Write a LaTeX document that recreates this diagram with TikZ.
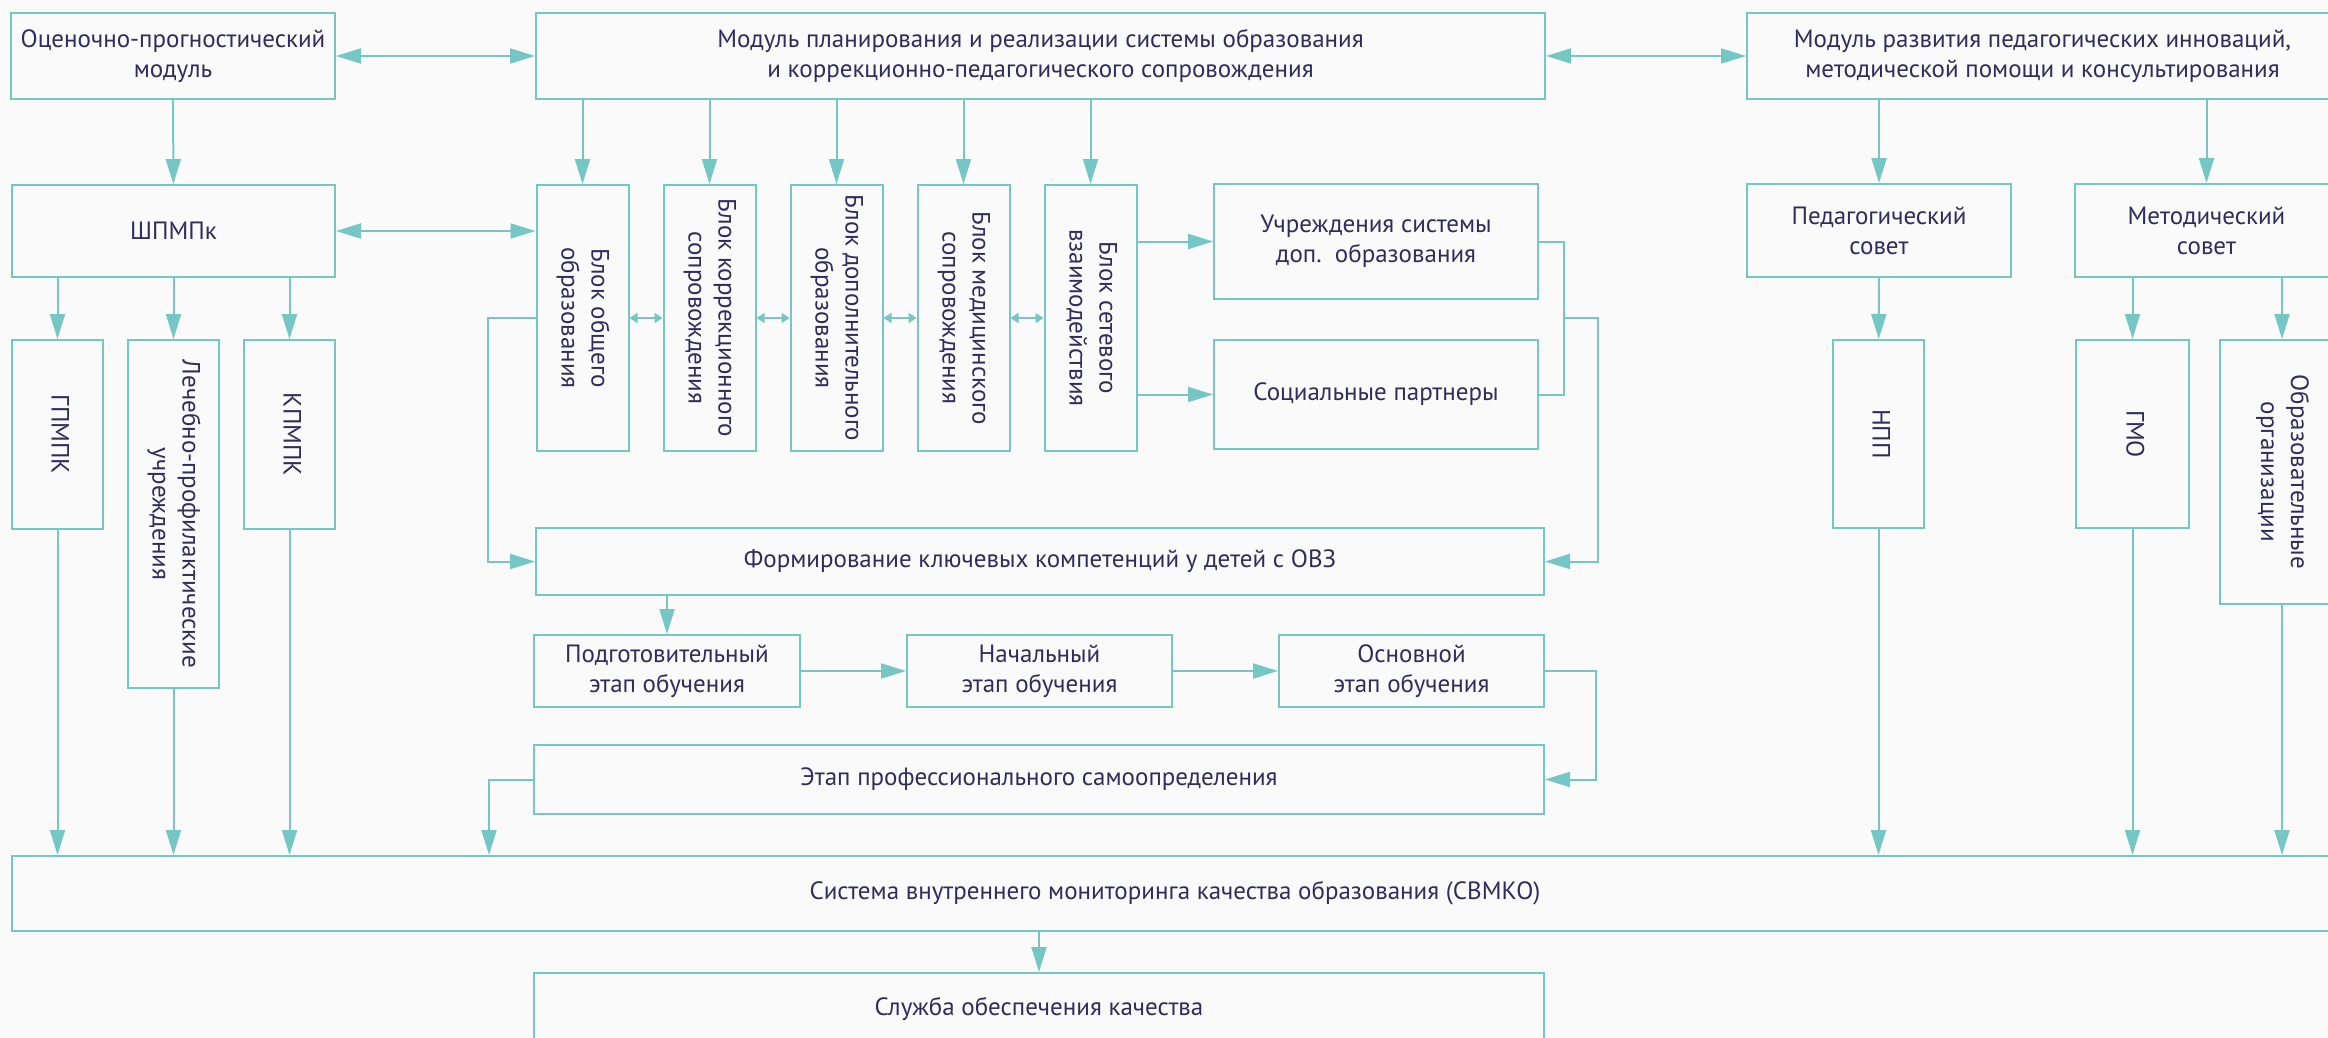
\documentclass[tikz,border=0pt]{standalone}
\usepackage{fontspec}
\setmainfont{PT Sans}
\usepackage{graphicx}
\usetikzlibrary{arrows.meta,calc}
\definecolor{teal1}{HTML}{74C7C5}
\definecolor{navy1}{HTML}{2F2D5B}
\definecolor{bg1}{HTML}{FAFAFA}
\newcommand{\vtext}[1]{\rotatebox{-90}{\begin{tabular}{@{}c@{}}#1\end{tabular}}}
\tikzset{
	box/.style={draw=teal1,line width=2pt,text=navy1,align=center,inner sep=0pt,font=\fontsize{25}{30}\selectfont},
	conn/.style={draw=teal1,line width=2pt},
	arr/.style={conn,-{Triangle[length=25pt,width=15pt]}},
	darr/.style={conn,{Triangle[length=25pt,width=15pt]}-{Triangle[length=25pt,width=15pt]}},
	sarr/.style={draw=teal1,line width=1.5pt,{Triangle[length=8pt,width=10pt]}-{Triangle[length=8pt,width=10pt]}},
	eArr/.style={every edge/.style={arr}},
	eDarr/.style={every edge/.style={darr}},
	eSarr/.style={every edge/.style={sarr}}
}

\begin{document}
\begin{tikzpicture}[x=1pt,y=-1pt]
	\path[use as bounding box,fill=bg1] (0,0) rectangle (2328,1038);
	
	\node[box,minimum width=324,minimum height=86] (ocen) at (173,56) {Оценочно-прогностический\\модуль};
	\node[box,minimum width=1009,minimum height=86] (plan) at (1040.5,56) {Модуль планирования и реализации системы образования\\и коррекционно-педагогического сопровождения};
	\node[box,minimum width=591,minimum height=86] (razv) at (2042.5,56) {Модуль развития педагогических инноваций,\\методической помощи и консультирования};
	
	\node[box,minimum width=323,minimum height=92] (shpmpk) at (173.5,231) {ШПМПк};
	\node[box,minimum width=91,minimum height=189] (gpmpk) at (57.5,434.5) {\vtext{ГПМПК}};
	\node[box,minimum width=91,minimum height=348] (lech) at (173.5,514) {\vtext{Лечебно-профилактические\\учреждения}};
	\node[box,minimum width=91,minimum height=189] (kpmpk) at (289.5,434.5) {\vtext{КПМПК}};
	
	\node[box,minimum width=92,minimum height=266] (b1) at (582.5,318) {\vtext{Блок общего\\образования}};
	\node[box,minimum width=92,minimum height=266] (b2) at (709.5,318) {\vtext{Блок коррекционного\\сопровождения}};
	\node[box,minimum width=92,minimum height=266] (b3) at (836.5,318) {\vtext{Блок дополнительного\\образования}};
	\node[box,minimum width=92,minimum height=266] (b4) at (963.5,318) {\vtext{Блок медицинского\\сопровождения}};
	\node[box,minimum width=92,minimum height=266] (b5) at (1090.5,318) {\vtext{Блок сетевого\\взаимодействия}};
	
	\node[box,minimum width=324,minimum height=115] (uchr) at (1376,241.5) {Учреждения системы\\доп.\ \ образования};
	\node[box,minimum width=324,minimum height=109] (soc) at (1376,394.5) {Социальные партнеры};
	
	\node[box,minimum width=1008,minimum height=67] (form) at (1040,561.5) {Формирование ключевых компетенций у детей с ОВЗ};
	\node[box,minimum width=266,minimum height=72] (podg) at (667,671) {Подготовительный\\этап обучения};
	\node[box,minimum width=265,minimum height=72] (nach) at (1039.5,671) {Начальный\\этап обучения};
	\node[box,minimum width=265,minimum height=72] (osn) at (1411.5,671) {Основной\\этап обучения};
	\node[box,minimum width=1010,minimum height=69] (prof) at (1039,779.5) {Этап профессионального самоопределения};
	\node[box,minimum width=2326,minimum height=75] (svmko) at (1175,893.5) {Система внутреннего мониторинга качества образования (СВМКО)};
	\node[box,minimum width=1010,minimum height=72] (sluzh) at (1039,1009) {Служба обеспечения качества};
	
	\node[box,minimum width=264,minimum height=93] (ped) at (1879,230.5) {Педагогический\\совет};
	\node[box,minimum width=263,minimum height=93] (met) at (2206.5,230.5) {Методический\\совет};
	\node[box,minimum width=91,minimum height=188] (npp) at (1878.5,434) {\vtext{НПП}};
	\node[box,minimum width=113,minimum height=188] (gmo) at (2132.5,434) {\vtext{ГМО}};
	\node[box,minimum width=124,minimum height=264] (obr) at (2282,472) {\vtext{Образовательные\\организации}};
	
	\path[eDarr]
	(ocen.east) edge (plan.west)
	(plan.east) edge (razv.west)
	(shpmpk.east) edge (shpmpk.east -| b1.west);
	\path[eArr]
	(ocen) edge (shpmpk)
	(shpmpk.south -| gpmpk) edge (gpmpk.north)
	(shpmpk.south -| lech) edge (lech.north)
	(shpmpk.south -| kpmpk) edge (kpmpk.north)
	(plan.south -| b1) edge (b1.north)
	(plan.south -| b2) edge (b2.north)
	(plan.south -| b3) edge (b3.north)
	(plan.south -| b4) edge (b4.north)
	(plan.south -| b5) edge (b5.north)
	(b5.east |- uchr) edge (uchr.west)
	(b5.east |- soc) edge (soc.west)
	(razv.south -| ped) edge (ped.north)
	(razv.south -| met) edge (met.north)
	(ped) edge (npp)
	(met.south -| gmo) edge (gmo.north)
	(met.south -| obr) edge (obr.north)
	(form.south -| podg) edge (podg.north)
	(podg) edge (nach)
	(nach) edge (osn)
	(gpmpk.south) edge (gpmpk.south |- svmko.north)
	(lech.south) edge (lech.south |- svmko.north)
	(kpmpk.south) edge (kpmpk.south |- svmko.north)
	(npp.south) edge (npp.south |- svmko.north)
	(gmo.south) edge (gmo.south |- svmko.north)
	(obr.south) edge (obr.south |- svmko.north)
	(svmko.south -| sluzh) edge (sluzh.north);
	\path[eSarr]
	(b1.east) edge (b2.west)
	(b2.east) edge (b3.west)
	(b3.east) edge (b4.west)
	(b4.east) edge (b5.west);
	
	\draw[conn] (uchr.east) -- ++(25,0) |- (soc.east);
	\coordinate (brk) at ($(uchr.east)!.5!(soc.east)+(25,0)$);
	\draw[arr] (brk) -- ++(34,0) |- (form.east);
	\draw[arr] (b1.west) -- ++(-48,0) |- (form.west);
	\draw[arr] (osn.east) -- ++(51,0) |- (prof.east);
	\draw[arr] (prof.west) -- ++(-44,0) coordinate (pk) -- (pk |- svmko.north);
\end{tikzpicture}
\end{document}
